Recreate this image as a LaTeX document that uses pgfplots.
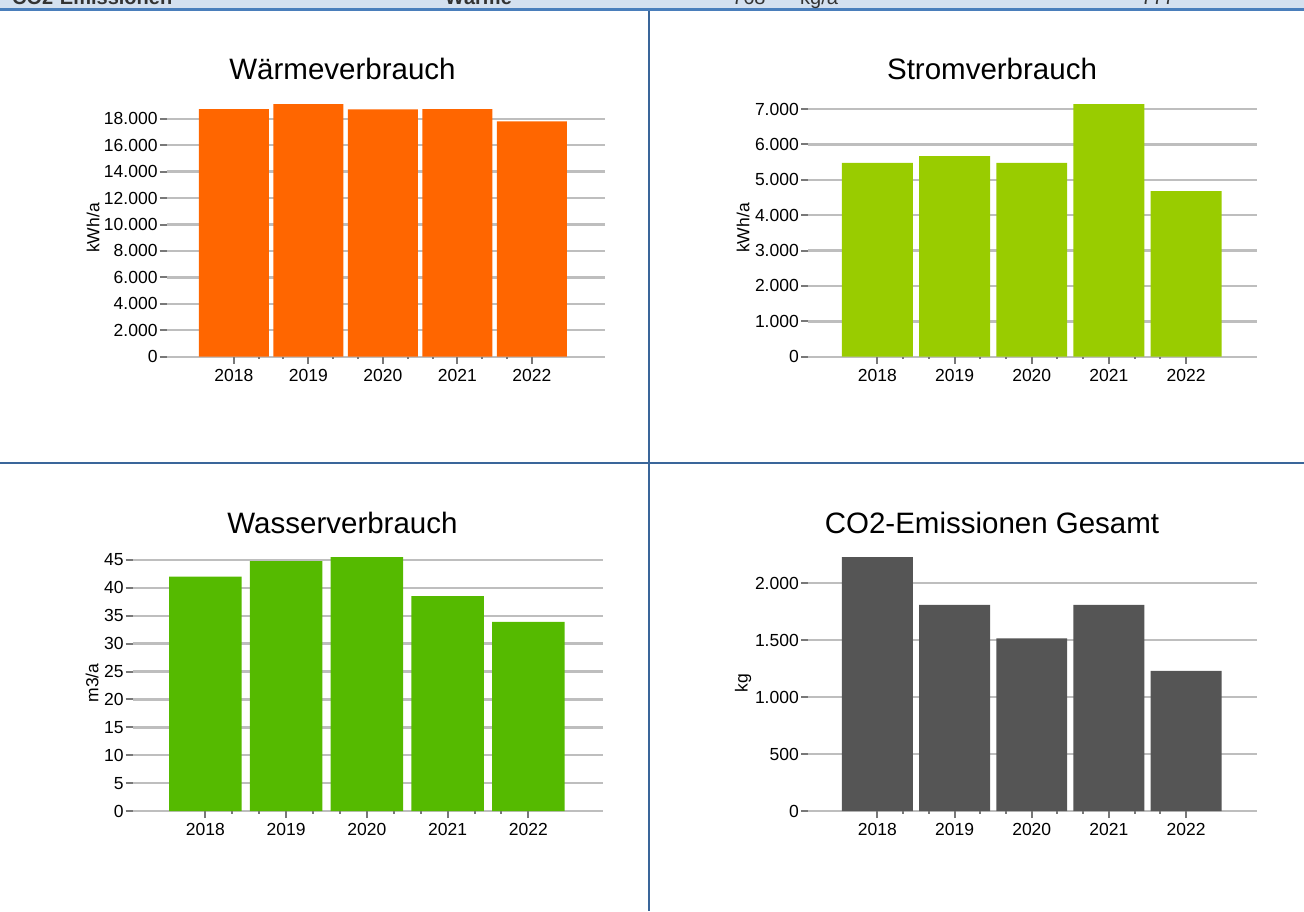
\documentclass[border=0pt]{standalone}
\usepackage{fontspec}
\setmainfont{Liberation Sans}
\usepackage{pgfplots}
\pgfplotsset{compat=1.18}

\definecolor{waerme}{RGB}{255,102,0}
\definecolor{strom}{RGB}{153,204,0}
\definecolor{wasser}{RGB}{85,186,0}
\definecolor{co2}{RGB}{85,85,85}
\definecolor{gridgray}{RGB}{190,190,190}
\definecolor{tickgray}{RGB}{120,120,120}
\definecolor{headband}{RGB}{212,224,239}
\definecolor{headline}{RGB}{74,126,187}
\definecolor{divider}{RGB}{58,102,154}

\pgfplotsset{
  panel/.style={
    scale only axis, anchor=south west, ybar, ymin=0,
    axis line style={draw=none},
    ymajorgrids, grid style={draw=gridgray, line width=2.4pt},
    xtick={0,1,2,3,4}, xticklabels={2018,2019,2020,2021,2022},
    minor x tick num=2,
    xtick pos=bottom, ytick pos=left, tick align=outside,
    major tick length=7pt, minor tick length=2.5pt,
    every tick/.style={draw=tickgray, line width=2pt},
    tick label style={font=\fontsize{17.5}{20}\selectfont, text=black},
    yticklabel style={inner sep=0pt, xshift=-2pt},
    xticklabel style={inner sep=0pt, yshift=-5pt},
    scaled y ticks=false,
    /pgf/number format/.cd, 1000 sep={.}, assume math mode=true,
  },
}

\begin{document}
\begin{tikzpicture}[x=1pt,y=1pt]
\useasboundingbox (0,0) rectangle (1304,-911);
\clip (0,0) rectangle (1304,-911);

% header strip, cut off at the top like in the source
\fill[headband] (0,0) rectangle (1304,-8);
\fill[headline] (0,-8) rectangle (1304,-10.7);
\begin{scope}[every node/.style={inner sep=0pt, text=black!80}]
  \node[anchor=base west, font=\bfseries\fontsize{20}{24}\selectfont] at (12,-4) {CO2-Emissionen};
  \node[anchor=base west, font=\bfseries\fontsize{20}{24}\selectfont] at (445,-4) {Wärme};
  \node[anchor=base west, font=\fontsize{20}{24}\selectfont] at (732,-4) {768};
  \node[anchor=base west, font=\fontsize{20}{24}\selectfont] at (800,-4) {kg/a};
  \node[anchor=base west, font=\fontsize{20}{24}\selectfont] at (1141,-4) {777};
\end{scope}

% dividers
\fill[divider] (648,-10.7) rectangle (650,-911);
\fill[divider] (0,-462.3) rectangle (1304,-464.3);

% titles and axis labels
\begin{scope}[every node/.style={inner sep=0pt, text=black}]
  \node[anchor=base, font=\fontsize{29.5}{34}\selectfont] at (342.5,-79) {Wärmeverbrauch};
  \node[anchor=base, font=\fontsize{29.5}{34}\selectfont] at (992,-79) {Stromverbrauch};
  \node[anchor=base, font=\fontsize{29.5}{34}\selectfont] at (342.5,-533) {Wasserverbrauch};
  \node[anchor=base, font=\fontsize{29.5}{34}\selectfont] at (992,-533) {CO2-Emissionen Gesamt};
  \node[rotate=90, font=\fontsize{17.5}{20}\selectfont] at (93,-228) {kWh/a};
  \node[rotate=90, font=\fontsize{17.5}{20}\selectfont] at (743,-228) {kWh/a};
  \node[rotate=90, font=\fontsize{17.5}{20}\selectfont] at (92,-683) {m3/a};
  \node[rotate=90, font=\fontsize{17.5}{20}\selectfont] at (743,-683) {kg};
\end{scope}

% Waermeverbrauch
\begin{axis}[panel, at={(166.7pt,-356.7pt)}, width=438.3pt, height=257.8pt,
  xmin=-0.9, xmax=4.98, ymax=19500, bar width=0.94,
  ytick={0,2000,...,18000}]
  \addplot[fill=waerme, draw=none] coordinates {(0,18730) (1,19100) (2,18700) (3,18730) (4,17800)};
\end{axis}

% Stromverbrauch
\begin{axis}[panel, at={(808pt,-356.7pt)}, width=449pt, height=257.8pt,
  xmin=-0.9, xmax=4.92, ymax=7285, bar width=0.92,
  ytick={0,1000,...,7000}]
  \addplot[fill=strom, draw=none] coordinates {(0,5480) (1,5670) (2,5480) (3,7140) (4,4680)};
\end{axis}

% Wasserverbrauch
\begin{axis}[panel, at={(132.7pt,-811pt)}, width=470pt, height=257.8pt,
  xmin=-0.9, xmax=4.92, ymax=46.2, bar width=0.90,
  ytick={0,5,...,45}]
  \addplot[fill=wasser, draw=none] coordinates {(0,42.0) (1,44.8) (2,45.5) (3,38.5) (4,33.9)};
\end{axis}

% CO2-Emissionen
\begin{axis}[panel, at={(808pt,-811pt)}, width=449pt, height=257.8pt,
  xmin=-0.9, xmax=4.92, ymax=2264, bar width=0.92,
  ytick={0,500,...,2000}]
  \addplot[fill=co2, draw=none] coordinates {(0,2229) (1,1810) (2,1517) (3,1810) (4,1230)};
\end{axis}
\end{tikzpicture}
\end{document}
